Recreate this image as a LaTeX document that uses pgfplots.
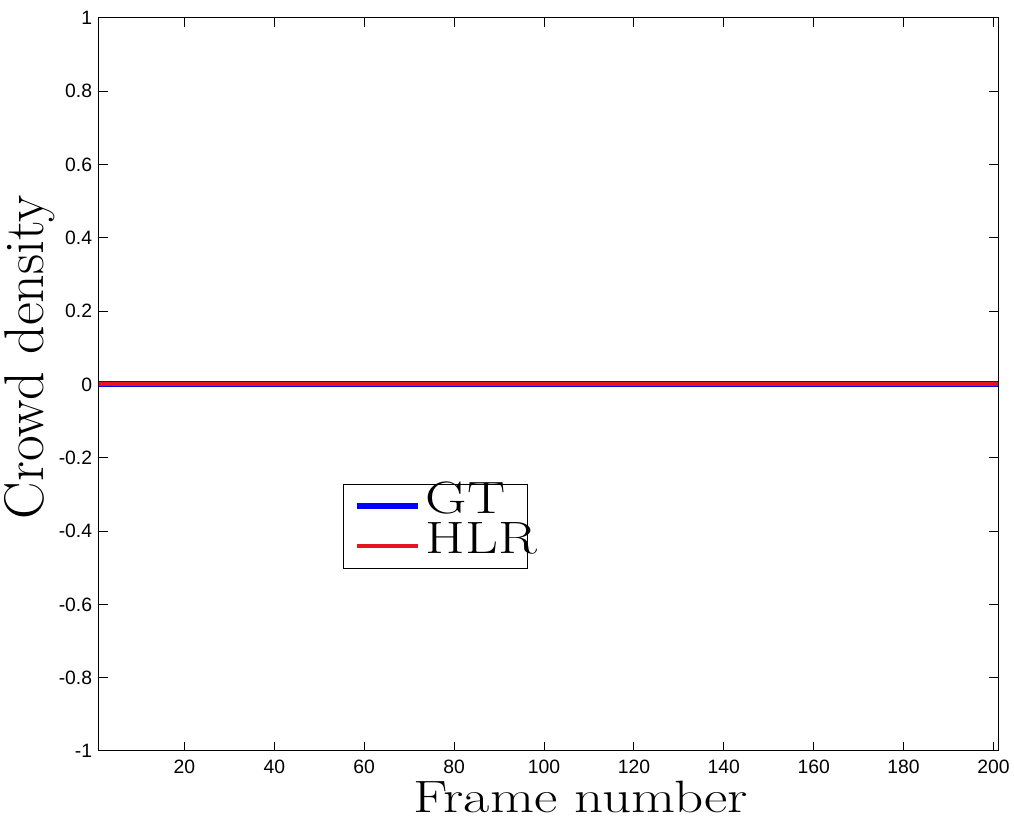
\documentclass[border=0pt]{standalone}
\usepackage{pgfplots}
\pgfplotsset{compat=1.18}
\usepackage{fontspec}
\newfontfamily\arialfont{Liberation Sans}
\definecolor{GTBlue}{HTML}{0000FF}
\definecolor{HLRRed}{HTML}{E6141E}
\newcommand{\wide}[1]{\scalebox{1.26}[1]{#1}}

\begin{document}
\begin{tikzpicture}
\begin{axis}[
  name=main,
  scale only axis,
  width=674.25pt,
  height=549.75pt,
  xmin=1, xmax=201,
  ymin=-1, ymax=1,
  xtick={20,40,...,200},
  ytick={-1,-0.8,-0.6,-0.4,-0.2,0,0.2,0.4,0.6,0.8,1},
  yticklabels={-1,-0.8,-0.6,-0.4,-0.2,0,0.2,0.4,0.6,0.8,1},
  tick align=inside,
  major tick length=7pt,
  tick style={black, line width=0.75pt},
  axis line style={line width=0.75pt},
  /pgf/number format/assume math mode=true,
  tick label style={font=\arialfont\fontsize{14.5}{16}\selectfont},
  xticklabel style={inner sep=0pt, yshift=-6.75pt},
  yticklabel style={inner sep=0pt, xshift=-5pt},
  xlabel={\wide{Frame number}},
  ylabel={Crowd density},
  xlabel style={font=\fontsize{34}{34}\selectfont, at={(axis description cs:0.536,0)}, anchor=base, yshift=-46.5pt},
  ylabel style={font=\fontsize{42}{42}\selectfont, at={(axis description cs:0,0.5375)}, anchor=base, yshift=41.5pt},
  legend image code/.code={\path (0pt,6pt); \draw[#1] (8pt,6pt) -- (54pt,6pt);},
  legend style={at={(axis description cs:0.271,0.364)}, anchor=north west,
    draw=black, line width=0.6pt, inner xsep=0pt, inner ysep=1.5pt,
    /tikz/row sep=0pt, /tikz/column sep=3.5pt,
    nodes={inner sep=0pt, text height=20.5pt, text depth=9.5pt, anchor=base west,
      font=\fontsize{34}{34}\selectfont}},
]
\addplot[GTBlue, line width=4.5pt] coordinates {(1,0) (201,0)};
\addplot[HLRRed, line width=3pt] coordinates {(1,0) (201,0)};
\legend{\makebox[76pt][l]{\wide{GT}},\makebox[76pt][l]{\wide{HLR}}}
\end{axis}
\pgfresetboundingbox
\path ([xshift=-74.25pt,yshift=-54.75pt]main.south west) rectangle ([xshift=12pt,yshift=13.5pt]main.north east);
\end{tikzpicture}
\end{document}
